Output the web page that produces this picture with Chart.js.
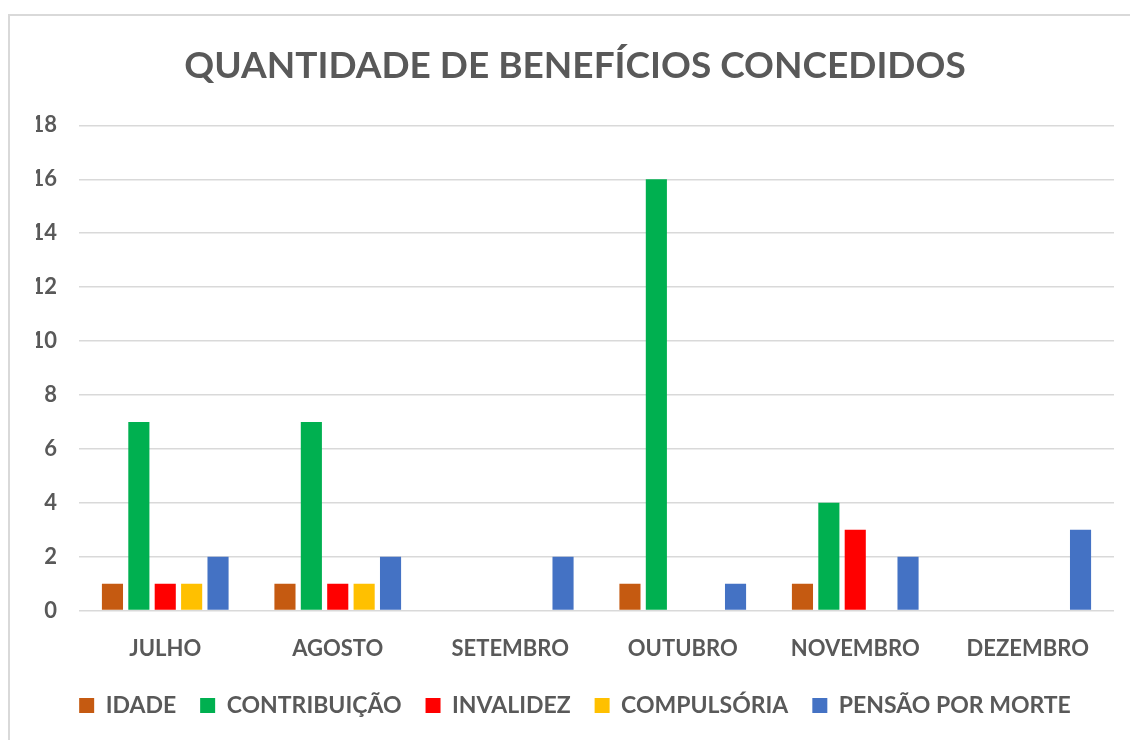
<!DOCTYPE html>
<html>
<head>
<meta charset="utf-8">
<script src="https://cdn.jsdelivr.net/npm/chart.js@4"></script>
<style>
  body { margin: 0; background: #fff; }
  #frame {
    position: absolute; left: 8px; top: 14px;
    width: 1122px; height: 726px;
    border-left: 2px solid #d9d9d9; border-top: 2px solid #d9d9d9;
  }
</style>
</head>
<body>
<div id="frame"><canvas id="myChart"></canvas></div>
<script>
const months = ['JULHO', 'AGOSTO', 'SETEMBRO', 'OUTUBRO', 'NOVEMBRO', 'DEZEMBRO'];
const idade = [1, 1, 0, 1, 1, 0];
const contribuicao = [7, 7, 0, 16, 4, 0];
const invalidez = [1, 1, 0, 0, 3, 0];
const compulsoria = [1, 1, 0, 0, 0, 0];
const pensao = [2, 2, 2, 1, 2, 3];

const textColor = '#595959';
const fontFamily = 'Lato';

const makeSet = (label, values, color) => {
  return {
    label: label,
    data: values,
    backgroundColor: color,
    borderColor: color,
    borderWidth: 0,
    categoryPercentage: 0.765,
    barPercentage: 0.8,
  };
};

const data = {
  labels: months,
  datasets: [
    makeSet('IDADE', idade, '#c55a11'),
    makeSet('CONTRIBUIÇÃO', contribuicao, '#00b050'),
    makeSet('INVALIDEZ', invalidez, '#ff0000'),
    makeSet('COMPULSÓRIA', compulsoria, '#ffc000'),
    makeSet('PENSÃO POR MORTE', pensao, '#4472c4'),
  ],
};

const config = {
  type: 'bar',
  data: data,
  options: {
    responsive: true,
    maintainAspectRatio: false,
    animation: false,
    layout: { padding: { left: 26, right: 18, top: 0, bottom: 15 } },
    plugins: {
      title: {
        display: true,
        text: 'QUANTIDADE DE BENEFÍCIOS CONCEDIDOS',
        color: textColor,
        font: { family: fontFamily, size: 37, weight: 'bold' },
        padding: { top: 28, bottom: 37 },
      },
      legend: {
        position: 'bottom',
        labels: {
          color: textColor,
          font: { family: fontFamily, size: 23, weight: 'bold' },
          boxWidth: 15,
          boxHeight: 15,
          padding: 24,
        },
      },
      tooltip: { enabled: false },
    },
    scales: {
      x: {
        grid: { display: false },
        border: { display: false },
        ticks: {
          color: textColor,
          font: { family: fontFamily, size: 22, weight: 'bold' },
          padding: 17,
        },
        afterFit: (scale) => { scale.height = scale.height - 9; },
      },
      y: {
        min: 0,
        max: 18,
        ticks: {
          stepSize: 2,
          color: textColor,
          font: { family: fontFamily, size: 22, weight: 'bold' },
          padding: 22,
        },
        grid: { color: '#d9d9d9', lineWidth: 1.5, drawTicks: false },
        border: { display: false },
        afterFit: (scale) => { scale.width = 43; },
      },
    },
  },
};

const barChart = new Chart(document.getElementById('myChart'), config);
</script>
</body>
</html>
